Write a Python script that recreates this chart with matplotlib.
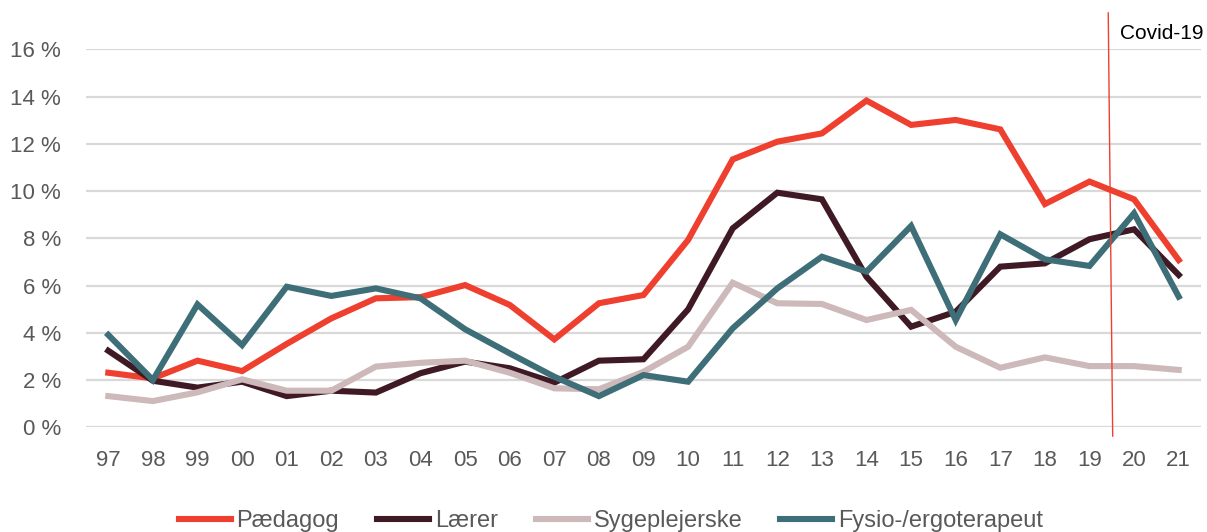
import numpy as np
import matplotlib.pyplot as plt

plt.rcParams['font.family'] = ['Liberation Sans', 'DejaVu Sans']

years = ["97", "98", "99", "00", "01", "02", "03", "04", "05", "06", "07", "08", "09",
         "10", "11", "12", "13", "14", "15", "16", "17", "18", "19", "20", "21"]

# andel i procent
paedagog = [2.31, 2.07, 2.82, 2.38, 3.53, 4.61, 5.46, 5.51, 6.02, 5.18, 3.72, 5.25, 5.60,
            7.93, 11.34, 12.09, 12.44, 13.83, 12.80, 13.01, 12.61, 9.45, 10.40, 9.65, 7.08]
laerer = [3.24, 1.97, 1.68, 1.93, 1.32, 1.55, 1.47, 2.29, 2.78, 2.50, 1.89, 2.82, 2.88,
          4.99, 8.42, 9.93, 9.65, 6.37, 4.26, 4.89, 6.80, 6.94, 7.96, 8.38, 6.45]
sygeplejerske = [1.32, 1.11, 1.48, 2.03, 1.55, 1.55, 2.57, 2.73, 2.82, 2.31, 1.65, 1.61, 2.35,
                 3.41, 6.12, 5.25, 5.22, 4.54, 4.97, 3.41, 2.52, 2.96, 2.59, 2.59, 2.43]
fysio = [3.91, 2.00, 5.20, 3.48, 5.95, 5.56, 5.88, 5.46, 4.15, 3.13, 2.14, 1.32, 2.21,
         1.93, 4.19, 5.88, 7.22, 6.59, 8.52, 4.54, 8.17, 7.11, 6.83, 9.06, 5.53]

labels = ["Pædagog", "Lærer", "Sygeplejerske", "Fysio-/ergoterapeut"]
colors = ["#EE3F2F", "#3F1A25", "#CDB8BA", "#3E6E78"]

fig = plt.figure(figsize=(12.07, 5.32), dpi=100)
ax = fig.add_axes([86/1207, 1 - 427.3/532, (1201-86)/1207, (427.3-49.3)/532])

x = np.arange(len(years))
for s, lab, c in zip([paedagog, laerer, sygeplejerske, fysio], labels, colors):
    ax.plot(x, s, color=c, lw=4.4, label=lab, solid_joinstyle='miter', zorder=3)

ax.set_xlim(-0.5, len(years) - 0.5)
ax.set_ylim(0, 16)
ax.set_yticks(np.arange(0, 17, 2))
ax.set_yticklabels([f"{v} %" for v in range(0, 17, 2)])
ax.set_xticks(x)
ax.set_xticklabels(years)
ax.grid(axis='y', color='#D9D9D9', lw=1.6, zorder=0)
ax.tick_params(length=0, labelsize=16, colors='#595959')
ax.tick_params(axis='y', pad=18)
ax.tick_params(axis='x', pad=16)
for sp in ax.spines.values():
    sp.set_visible(False)

# covid-19 markering
ax.plot([22.42, 22.52], [17.54, -0.37], color='#EE3F2F', lw=1.0, clip_on=False, zorder=4)
ax.text(22.69, 16.65, "Covid-19", fontsize=15, color='black', va='center', ha='left')

fig.legend(loc='center', bbox_to_anchor=(0.506, 0.02), ncol=4, frameon=False,
           fontsize=17, handlelength=2.2, handletextpad=0.25, columnspacing=1.6,
           labelcolor='#595959')

fig.savefig("out.png", dpi=100)
